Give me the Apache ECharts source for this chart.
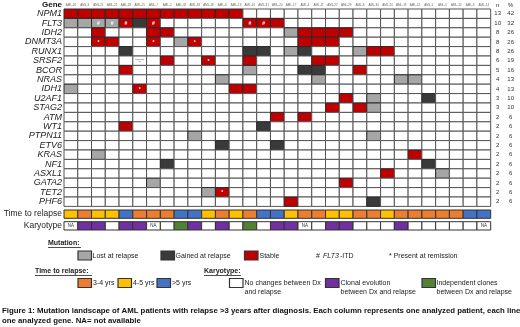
<!DOCTYPE html>
<html>
<head>
<meta charset="utf-8">
<script src="https://cdn.jsdelivr.net/npm/echarts@6/dist/echarts.min.js"></script>
</head>
<body style="margin:0;background-color:#fff">
<div id="container" style="width:520px;height:327px"></div>
<script type="text/javascript">
var patients = ['AML-26','AML-3','AML-21','AML-25','AML-28','AML-15','AML-7','AML-2','AML-32','AML-33','AML-18','AML-6','AML-19','AML-16','AML-31',
    'AML-20','AML-17','AML-4','AML-11','AML-27','AML-29','AML-8','AML-30','AML-24','AML-13','AML-12','AML-1','AML-5','AML-10','AML-9','AML-14'];
var genes = ['NPM1','FLT3','IDH2','DNMT3A','RUNX1','SRSF2','BCOR','NRAS','IDH1','U2AF1','STAG2',
    'ATM','WT1','PTPN11','ETV6','KRAS','NF1','ASXL1','GATA2','TET2','PHF6'];
// L = lost at relapse, G = gained at relapse, S = stable, . = none
var mutationRows = [
    'SSSSSSSSSSSSS..................',
    'LLLLSGS......SSS...............',
    '..S...SS........LSSSS..........',
    '..SS..S.LS.......SSS...........',
    '....G........GG.LG...LSS.......',
    '.......S..S..S....SS...........',
    '....S........L...GG..S.........',
    '...........L......L.....LL.....',
    'L....S......SS.................',
    '....................S.L...G....',
    '...................S.SL........',
    '...............S.S.............',
    '....S.........G................',
    '.........L............L........',
    '...........G...G...............',
    '..L......................S.....',
    '.......G..................G....',
    '.......................S...L...',
    '......L.............S..........',
    '..........LS...................',
    '................S.....G........'
];
var cellMarks = [
    ['FLT3', 2, '#'], ['FLT3', 3, '#'], ['FLT3', 4, '#'], ['FLT3', 6, '#'], ['FLT3', 13, '#'], ['FLT3', 14, '#'],
    ['DNMT3A', 2, '*'], ['DNMT3A', 6, '*'], ['DNMT3A', 9, '*'],
    ['SRSF2', 10, '*'], ['IDH1', 5, '*'], ['TET2', 11, '*'],
    ['SRSF2', 5, 'Subclonal\ndx']
];
var geneN = [13,10,8,8,8,6,5,4,4,3,3,2,2,2,2,2,2,2,2,2,2];
var genePct = [42,32,26,26,26,19,16,13,13,10,10,6,6,6,6,6,6,6,6,6,6];
var relapseTime = ['4-5','3-4','4-5','4-5','>5','3-4','3-4','3-4','>5','>5','4-5','3-4','4-5','3-4','>5','>5',
    '4-5','3-4','3-4','4-5','4-5','3-4','3-4','4-5','3-4','3-4','3-4','3-4','3-4','>5','>5'];
var karyotype = ['NA','clonal','clonal','same','clonal','clonal','NA','same','indep','clonal','same','clonal','same','indep','same','clonal',
    'clonal','NA','same','clonal','clonal','same','same','same','clonal','same','same','same','same','same','NA'];
var bottomRows = ['Time to relapse', 'Karyotype'];

var mutColors = {'.': '#ffffff', 'L': '#a6a6a6', 'G': '#3a3a3a', 'S': '#c00000'};
var timeColors = {'3-4': '#ed7d31', '4-5': '#ffc000', '>5': '#4472c4'};
var karyoColors = {'NA': '#ffffff', 'same': '#ffffff', 'clonal': '#7030a0', 'indep': '#548235'};
var FONT = 'Liberation Sans, Arial, sans-serif';

var dom = document.getElementById('container');
var myChart = echarts.init(dom);

function markOf(gene, col) {
    for (var i = 0; i < cellMarks.length; i++) {
        if (cellMarks[i][0] === gene && cellMarks[i][1] === col) return cellMarks[i][2];
    }
    return '';
}

var cells = [];
var cellData = [];
genes.forEach(function (g, gi) {
    for (var c = 0; c < patients.length; c++) {
        cells.push({code: mutationRows[gi].charAt(c), mark: markOf(g, c)});
        cellData.push([c, gi]);
    }
});

var bottomCells = [];
var bottomData = [];
for (var c = 0; c < patients.length; c++) {
    bottomCells.push({color: timeColors[relapseTime[c]], text: ''});
    bottomData.push([c, 0]);
    bottomCells.push({color: karyoColors[karyotype[c]], text: karyotype[c] === 'NA' ? 'NA' : ''});
    bottomData.push([c, 1]);
}

function renderCell(params, api) {
    var cell = cells[params.dataIndex];
    var p = api.coord([api.value(0), api.value(1)]);
    var s = api.size([1, 1]);
    var children = [{
        type: 'rect',
        shape: {x: p[0] - s[0] / 2, y: p[1] - s[1] / 2, width: s[0], height: s[1]},
        style: {fill: mutColors[cell.code], stroke: cell.code === '.' ? '#555' : '#2a2a2a', lineWidth: 1}
    }];
    if (cell.mark) {
        var small = cell.mark.length > 1;
        children.push({
            type: 'text',
            style: {
                text: cell.mark, x: p[0], y: p[1] + (small ? 0 : 0.5),
                fill: small ? '#333' : '#fff',
                font: (small ? '2px ' : 'bold 5px ') + FONT,
                align: 'center', verticalAlign: 'middle',
                textAlign: 'center', textVerticalAlign: 'middle'
            }
        });
    }
    return {type: 'group', children: children};
}

function renderBottom(params, api) {
    var cell = bottomCells[params.dataIndex];
    var p = api.coord([api.value(0), api.value(1)]);
    var s = api.size([1, 1]);
    var h = 8.3;
    var children = [{
        type: 'rect',
        shape: {x: p[0] - s[0] / 2, y: p[1] - h / 2, width: s[0], height: h},
        style: {fill: cell.color, stroke: '#333', lineWidth: 1}
    }];
    if (cell.text) {
        children.push({
            type: 'text',
            style: {
                text: cell.text, x: p[0], y: p[1],
                fill: '#333', font: '4.5px ' + FONT,
                align: 'center', verticalAlign: 'middle',
                textAlign: 'center', textVerticalAlign: 'middle'
            }
        });
    }
    return {type: 'group', children: children};
}

function box(x, y, color) {
    return {type: 'rect', shape: {x: x, y: y, width: 13.5, height: 9},
        style: {fill: color, stroke: '#333', lineWidth: 1.2}};
}
function label(x, y, text, bold) {
    return {type: 'text', style: {text: text, x: x, y: y, fill: '#222',
        font: (bold ? 'bold ' : '') + '7px ' + FONT,
        verticalAlign: 'middle', textVerticalAlign: 'middle'}};
}
function underline(x1, x2, y) {
    return {type: 'line', shape: {x1: x1, y1: y, x2: x2, y2: y}, style: {stroke: '#222', lineWidth: 0.8}};
}

var legendItems = [
    label(48, 243, 'Mutation:', true), underline(48, 81, 247.5),
    box(78, 251, mutColors.L), label(92.5, 256, 'Lost at relapse'),
    box(161, 251, mutColors.G), label(175.5, 256, 'Gained at relapse'),
    box(244.5, 251, mutColors.S), label(259.5, 256, 'Stable'),
    {type: 'text', style: {text: '# ', x: 316, y: 256, fill: '#222', font: '7px ' + FONT, verticalAlign: 'middle', textVerticalAlign: 'middle'}},
    {type: 'text', style: {text: 'FLT3', x: 323, y: 256, fill: '#222', font: 'italic 7px ' + FONT, verticalAlign: 'middle', textVerticalAlign: 'middle'}},
    label(340, 256, '-ITD'),
    label(389, 256, '* Present at remission'),

    label(35, 271, 'Time to relapse:', true), underline(35, 92, 275.5),
    box(78, 278.5, timeColors['3-4']), label(93, 283, '3-4 yrs'),
    box(118, 278.5, timeColors['4-5']), label(133, 283, '4-5 yrs'),
    box(157, 278.5, timeColors['>5']), label(172, 283, '>5 yrs'),

    label(204, 271, 'Karyotype:', true), underline(204, 241, 275.5),
    box(229.5, 278.5, karyoColors.same), label(244.5, 283, 'No changes between Dx'), label(244.5, 292.5, 'and relapse'),
    box(325.5, 278.5, karyoColors.clonal), label(340.5, 283, 'Clonal evolution'), label(340.5, 292.5, 'between Dx and relapse'),
    box(422, 278.5, karyoColors.indep), label(436.5, 283, 'Independent clones'), label(436.5, 292.5, 'between Dx and relapse'),

    {type: 'text', style: {text: 'Gene', x: 62, y: 5, fill: '#111', font: 'bold 8px ' + FONT,
        align: 'right', textAlign: 'right', verticalAlign: 'middle', textVerticalAlign: 'middle'}},
    {type: 'text', style: {text: 'n', x: 497.7, y: 5, fill: '#333', font: '6px ' + FONT,
        align: 'center', textAlign: 'center', verticalAlign: 'middle', textVerticalAlign: 'middle'}},
    {type: 'text', style: {text: '%', x: 510.7, y: 5, fill: '#333', font: '6px ' + FONT,
        align: 'center', textAlign: 'center', verticalAlign: 'middle', textVerticalAlign: 'middle'}},

    {type: 'text', style: {text: 'Figure 1: Mutation landscape of AML patients with relapse >3 years after diagnosis. Each column represents one analyzed patient, each line\none analyzed gene. NA= not available',
        x: 2, y: 305.5, fill: '#111', font: 'bold 7.8px ' + FONT, lineHeight: 10}}
];

var option = {
    animation: false,
    textStyle: {fontFamily: FONT},
    grid: [
        {left: 64, right: 29.3, top: 9, height: 197.4},
        {left: 64, right: 29.3, top: 208.3, height: 23.4}
    ],
    xAxis: [
        {type: 'category', gridIndex: 0, data: patients, position: 'top',
            axisLine: {show: false}, axisTick: {show: false}, splitLine: {show: false},
            axisLabel: {interval: 0, fontSize: 3, color: '#666', margin: 2}},
        {type: 'category', gridIndex: 1, data: patients, show: false}
    ],
    yAxis: [
        {type: 'category', gridIndex: 0, data: genes, inverse: true,
            axisLine: {show: false}, axisTick: {show: false}, splitLine: {show: false},
            axisLabel: {interval: 0, fontSize: 9, fontStyle: 'italic', color: '#222', margin: 2}},
        {type: 'category', gridIndex: 0, data: genes, inverse: true, position: 'right',
            axisLine: {show: false}, axisTick: {show: false}, splitLine: {show: false},
            axisLabel: {interval: 0, margin: 1, color: '#333',
                formatter: function (value, idx) {
                    return '{n|' + geneN[idx] + '}{p|' + genePct[idx] + '}';
                },
                rich: {
                    n: {width: 12, align: 'center', fontSize: 6, color: '#333'},
                    p: {width: 14, align: 'center', fontSize: 6, color: '#333'}
                }}},
        {type: 'category', gridIndex: 1, data: bottomRows, inverse: true,
            axisLine: {show: false}, axisTick: {show: false}, splitLine: {show: false},
            axisLabel: {interval: 0, fontSize: 8.5, color: '#222', margin: 2}}
    ],
    series: [
        {type: 'custom', xAxisIndex: 0, yAxisIndex: 0, renderItem: renderCell, data: cellData, silent: true},
        {type: 'custom', xAxisIndex: 1, yAxisIndex: 2, renderItem: renderBottom, data: bottomData, silent: true}
    ],
    graphic: {elements: legendItems}
};
if (option && typeof option === 'object') {
    myChart.setOption(option, true);
}
</script>
</body>
</html>
